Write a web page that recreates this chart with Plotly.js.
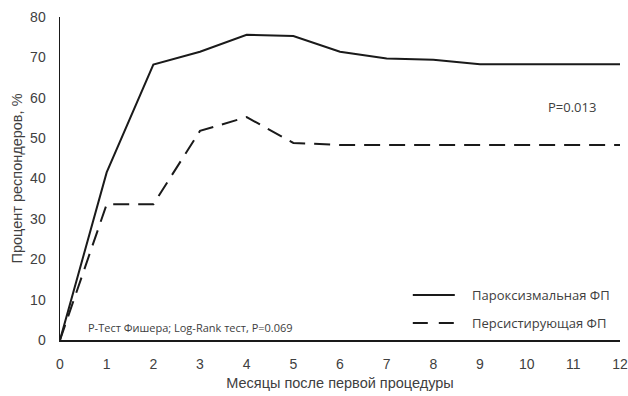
<!DOCTYPE html>
<html>
<head>
<meta charset="utf-8">
<script src="https://cdn.plot.ly/plotly-3.0.1.min.js"></script>
<style>
  html, body { margin: 0; padding: 0; background: #fff; }
  #chart { width: 628px; height: 396px; }
</style>
</head>
<body>
<div id="chart"></div>
<script>
// Months after the first procedure
const months = [0, 1, 2, 3, 4, 5, 6, 7, 8, 9, 10, 11, 12];
// Share of responders, %
const paroxysmal = [0, 41.5, 68.2, 71.4, 75.6, 75.3, 71.4, 69.7, 69.4, 68.3, 68.3, 68.3, 68.3];
const persistent = [0, 33.6, 33.6, 51.8, 55.2, 48.8, 48.3, 48.3, 48.3, 48.3, 48.3, 48.3, 48.3];
const seriesNames = ['Пароксизмальная ФП', 'Персистирующая ФП'];
const xTicks = [0, 1, 2, 3, 4, 5, 6, 7, 8, 9, 10, 11, 12];
const yTicks = [0, 10, 20, 30, 40, 50, 60, 70, 80];

const ink = '#1a1a1a';
const textGrey = '#404040';
const sansFont = 'Liberation Sans, Arial, sans-serif';
const noteFont = 'Open Sans, sans-serif';
const tickFont = { family: sansFont, size: 14, color: textGrey };
const dashes = ['solid', '16px,9px'];

const traces = [paroxysmal, persistent].map((vals, i) => ({
  x: months, y: vals, name: seriesNames[i], type: 'scatter', mode: 'lines',
  line: { color: ink, width: 2, dash: dashes[i] }, showlegend: false
}));

// Key in the lower right corner: a line sample and a label per series
const keyRows = [0.139, 0.053];
const keyShapes = seriesNames.map((n, i) => ({
  type: 'line', xref: 'paper', yref: 'paper',
  x0: 0.630, x1: 0.705, y0: keyRows[i], y1: keyRows[i],
  line: { color: ink, width: 2, dash: i === 0 ? 'solid' : '15px,11px' }
}));
const keyLabels = seriesNames.map((n, i) => ({
  xref: 'paper', yref: 'paper', x: 0.732, y: keyRows[i], xanchor: 'left', yanchor: 'middle',
  text: n, showarrow: false, font: { family: noteFont, size: 13, color: textGrey }
}));

const layout = {
  width: 628, height: 396,
  margin: { l: 60, r: 8, t: 17, b: 56 },
  paper_bgcolor: '#fff', plot_bgcolor: '#fff',
  showlegend: false,
  xaxis: {
    range: [0, 12], tickvals: xTicks, ticktext: xTicks.map(String),
    showgrid: false, zeroline: false, showline: true, linecolor: ink, linewidth: 1.5,
    ticks: '', tickfont: tickFont, ticklabelstandoff: 11,
    title: { text: 'Месяцы после первой процедуры', font: { family: sansFont, size: 14.5, color: textGrey }, standoff: 6 }
  },
  yaxis: {
    range: [0, 80], tickvals: yTicks, ticktext: yTicks.map(String),
    showgrid: false, zeroline: false, showline: true, linecolor: ink, linewidth: 1.5,
    ticks: '', tickfont: tickFont, ticklabelstandoff: 10,
    title: { text: 'Процент респондеров, %', font: { family: sansFont, size: 14.5, color: textGrey }, standoff: 4 }
  },
  shapes: keyShapes,
  annotations: [
    {
      x: 10.98, y: 57.8, xref: 'x', yref: 'y', text: 'P=0.013', showarrow: false,
      font: { family: noteFont, size: 13, color: textGrey }
    },
    {
      x: 0.55, y: 3, xref: 'x', yref: 'y', xanchor: 'left', text: 'Р-Тест Фишера; Log-Rank тест, P=0.069', showarrow: false,
      font: { family: noteFont, size: 11, color: textGrey }
    }
  ].concat(keyLabels)
};

Plotly.newPlot('chart', traces, layout, { displayModeBar: false, staticPlot: true });
</script>
</body>
</html>
